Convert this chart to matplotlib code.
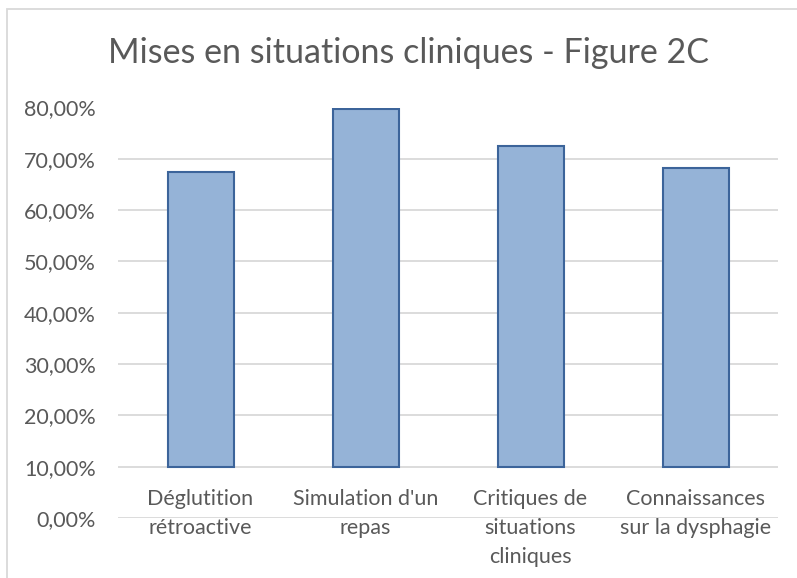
import matplotlib
matplotlib.use("Agg")
import matplotlib.pyplot as plt
from matplotlib.patches import Rectangle
from matplotlib.transforms import blended_transform_factory

categories = ["Déglutition\nrétroactive", "Simulation d'un\nrepas",
              "Critiques de\nsituations\ncliniques", "Connaissances\nsur la dysphagie"]
values = [67.5, 79.7, 72.5, 68.2]
yticks = [0, 10, 20, 30, 40, 50, 60, 70, 80]
ytick_labels = [f"{v},00%" for v in yticks]
title = "Mises en situations cliniques - Figure 2C"
base = 10

plt.rcParams['font.family'] = ['Lato', 'DejaVu Sans']
W, H = 797, 578
fig = plt.figure(figsize=(W / 100, H / 100), dpi=100)
ax = fig.add_axes([118 / W, (H - 518) / H, (778 - 118) / W, (518 - 107.5) / H])

x = list(range(len(categories)))
ax.bar(x, [v - base for v in values], bottom=base, width=0.4,
       color='#95b3d7', edgecolor='#3c649a', linewidth=1.5, zorder=3)

ax.set_xlim(-0.5, len(categories) - 0.5)
ax.set_ylim(0, 80)
ax.set_yticks(yticks)
ax.set_yticklabels(ytick_labels)
ax.set_xticks([])
ax.tick_params(axis='y', length=0, pad=16, labelsize=15.5, labelcolor='#595959')
ax.grid(axis='y', color='#d9d9d9', linewidth=1.3, zorder=0)
for s in ax.spines.values():
    s.set_visible(False)

tr = blended_transform_factory(ax.transData, fig.transFigure)
for i, lab in enumerate(categories):
    ax.text(i, (H - 489) / H, lab, transform=tr, ha='center', va='top',
            fontsize=15.5, color='#595959', linespacing=1.55)

fig.text((108 + 708) / 2 / W, (H - 53) / H, title, ha='center', va='center',
         fontsize=24.5, color='#595959')

fig.add_artist(Rectangle((7 / W, -0.1), 1.0, (H - 9) / H + 0.1,
                         transform=fig.transFigure, fill=False,
                         edgecolor='#d9d9d9', linewidth=1.3))

fig.savefig("out.png", dpi=100)
